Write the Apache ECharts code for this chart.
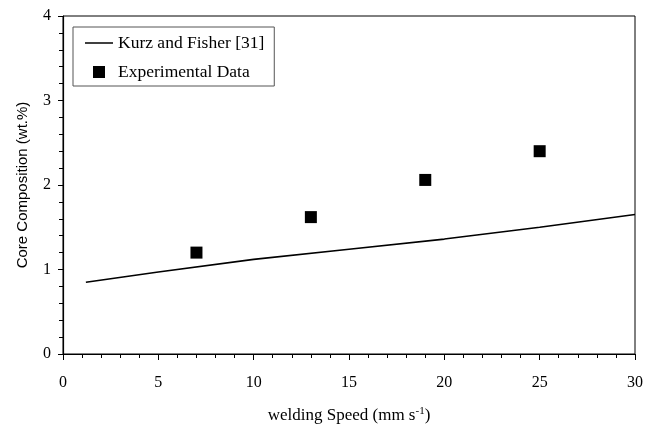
<!DOCTYPE html>
<html>
<head>
<meta charset="utf-8">
<script src="https://cdn.jsdelivr.net/npm/echarts@6/dist/echarts.min.js"></script>
<style>
  html, body { margin: 0; padding: 0; background: #fff; }
  #chart { width: 655px; height: 425px; }
</style>
</head>
<body>
<div id="chart"></div>
<script>
// model curve (Kurz and Fisher)
const modelSpeed = [1.2, 5, 10, 15, 20, 25, 30];
const modelCore = [0.85, 0.97, 1.12, 1.24, 1.36, 1.5, 1.65];
// measured points
const expSpeed = [7, 13, 19, 25];
const expCore = [1.2, 1.62, 2.06, 2.4];

const font = "'Liberation Serif', 'Times New Roman', serif";
const sans = "'Liberation Sans', Arial, sans-serif";

const myChart = echarts.init(document.getElementById("chart"));

myChart.setOption({
  animation: false,
  textStyle: { fontFamily: font, color: "#000" },
  grid: {
    left: 63, right: 20, top: 16, bottom: 71,
    outerBoundsMode: "none",
    containLabel: false,
    show: true, borderColor: "#000", borderWidth: 1
  },
  legend: {
    orient: "vertical",
    left: 73, top: 27,
    padding: [7, 10, 5, 12],
    itemGap: 11,
    itemWidth: 28, itemHeight: 12,
    symbolKeepAspect: true,
    borderColor: "#555", borderWidth: 1,
    textStyle: { fontFamily: font, fontSize: 17.5, color: "#000" },
    data: [
      { name: "Kurz and Fisher [31]", icon: "path://M0,0 H28 V1.5 H0 Z" },
      { name: "Experimental Data", icon: "path://M0,0 H12 V12 H0 Z" }
    ]
  },
  xAxis: {
    type: "value",
    min: 0, max: 30, interval: 5,
    name: "welding Speed (mm s{sup|-1})",
    nameLocation: "middle",
    nameGap: 52,
    nameTextStyle: {
      fontFamily: font, fontSize: 17, color: "#000",
      rich: { sup: { fontFamily: font, fontSize: 11, verticalAlign: "top", padding: [0, 0, 8, 0] } }
    },
    axisLine: { onZero: false, lineStyle: { color: "#000", width: 1.2 } },
    axisTick: { inside: false, length: 6, lineStyle: { color: "#000" } },
    minorTick: { show: true, splitNumber: 5, length: 4, lineStyle: { color: "#000" } },
    axisLabel: { fontFamily: font, fontSize: 16, color: "#000", margin: 21 },
    splitLine: { show: false }
  },
  yAxis: {
    type: "value",
    min: 0, max: 4, interval: 1,
    name: "Core Composition (wt.%)",
    nameLocation: "middle",
    nameGap: 33,
    nameTextStyle: { fontFamily: sans, fontSize: 15, color: "#000" },
    axisLine: { show: true, lineStyle: { color: "#000", width: 1.2 } },
    axisTick: { show: true, inside: false, length: 5, lineStyle: { color: "#000" } },
    minorTick: { show: true, splitNumber: 5, length: 4, lineStyle: { color: "#000" } },
    axisLabel: { fontFamily: font, fontSize: 16, color: "#000", margin: 12 },
    splitLine: { show: false }
  },
  series: [
    {
      name: "Kurz and Fisher [31]",
      type: "line",
      symbol: "none",
      lineStyle: { color: "#000", width: 1.6 },
      itemStyle: { color: "#000" },
      data: modelSpeed.map((x, i) => [x, modelCore[i]])
    },
    {
      name: "Experimental Data",
      type: "scatter",
      symbol: "rect",
      symbolSize: 12,
      itemStyle: { color: "#000", opacity: 1 },
      data: expSpeed.map((x, i) => [x, expCore[i]])
    }
  ]
});
</script>
</body>
</html>
